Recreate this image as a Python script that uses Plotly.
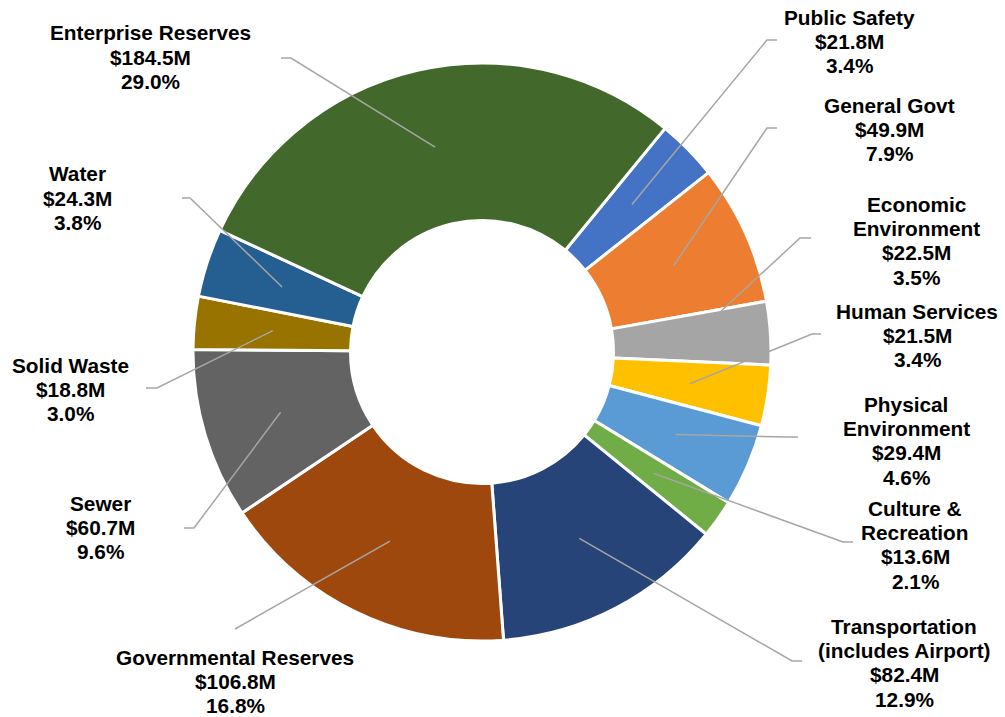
import math
import plotly.graph_objects as go

# slices, clockwise from the Public Safety slice
categories = ["Public Safety", "General Govt", "Economic Environment", "Human Services",
              "Physical Environment", "Culture & Recreation", "Transportation (includes Airport)",
              "Governmental Reserves", "Sewer", "Solid Waste", "Water", "Enterprise Reserves"]
label_names = ["Public Safety", "General Govt", "Economic<br>Environment", "Human Services",
               "Physical<br>Environment", "Culture &<br>Recreation", "Transportation<br>(includes Airport)",
               "Governmental Reserves", "Sewer", "Solid Waste", "Water", "Enterprise Reserves"]
values_m = [21.8, 49.9, 22.5, 21.5, 29.4, 13.6, 82.4, 106.8, 60.7, 18.8, 24.3, 184.5]
pct_labels = ["3.4%", "7.9%", "3.5%", "3.4%", "4.6%", "2.1%", "12.9%", "16.8%", "9.6%", "3.0%", "3.8%", "29.0%"]
colors = ["#4472C4", "#ED7D31", "#A5A5A5", "#FFC000", "#5B9BD5", "#70AD47",
          "#264478", "#9E480E", "#636363", "#997300", "#255E91", "#43682B"]

W, H = 1005, 717
CX, CY, R = 482, 352, 289
HOLE = 0.455
ROT = 39.3

# label layout: (center x, first line y, leader start, leader stub end) in pixels
label_layout = [
    (849, 17, (777, 40), (767, 40)),
    (889, 105, (777, 128), (767, 128)),
    (916, 204, (811, 238), (800, 238)),
    (917, 311, (821, 334), (812, 334)),
    (906, 404, (798, 437), (788, 437)),
    (915, 508, (853, 542), (843, 542)),
    (904, 626, (802, 661), (792, 661)),
    (235, 657, (235, 629), (235, 629)),
    (100, 503, (184, 528), (194, 528)),
    (70, 365, (146, 388), (157, 388)),
    (77, 174, (182, 198), (190, 198)),
    (150, 33, (281, 58), (291, 58)),
]
LINE_H = 24.4


def px(x, y):
    return x / W, 1 - y / H


x0, y1 = px(CX - R, CY - R)
x1, y0 = px(CX + R, CY + R)

fig = go.Figure(go.Pie(
    labels=categories, values=values_m, hole=HOLE, sort=False, direction="clockwise",
    rotation=ROT, textinfo="none", hoverinfo="label+value+percent",
    marker=dict(colors=colors, line=dict(color="white", width=3)),
    domain=dict(x=[x0, x1], y=[y0, y1]),
    showlegend=False,
))

total = sum(values_m)
r_mid = R * (1 + HOLE) / 2
cum = 0
shapes, annotations = [], []
for i, v in enumerate(values_m):
    ang = math.radians(ROT + 360 * (cum + v / 2) / total)
    cum += v
    ix, iy = CX + r_mid * math.sin(ang), CY - r_mid * math.cos(ang)
    lx, ly, (sx, sy), (ex, ey) = label_layout[i]
    pts = [px(sx, sy), px(ex, ey), px(ix, iy)]
    path = "M {} {} L {} {} L {} {}".format(*[c for p in pts for c in p])
    shapes.append(dict(type="path", path=path, xref="paper", yref="paper",
                       line=dict(color="#A6A6A6", width=1.5)))
    lines = label_names[i].split("<br>") + ["${:.1f}M".format(v), pct_labels[i]]
    for j, t in enumerate(lines):
        x, y = px(lx, ly + j * LINE_H)
        annotations.append(dict(text="<b>" + t + "</b>", x=x, y=y, xref="paper", yref="paper",
                                showarrow=False, xanchor="center", yanchor="middle",
                                font=dict(family="Liberation Sans, Arial", size=20.8, color="black")))

fig.update_layout(width=W, height=H, margin=dict(l=0, r=0, t=0, b=0),
                  paper_bgcolor="white", plot_bgcolor="white",
                  shapes=shapes, annotations=annotations)
# drop the default body margin so the figure fills the window
fig.write_html("out.html", config={"displayModeBar": False},
               post_script="document.body.style.margin='0';")
